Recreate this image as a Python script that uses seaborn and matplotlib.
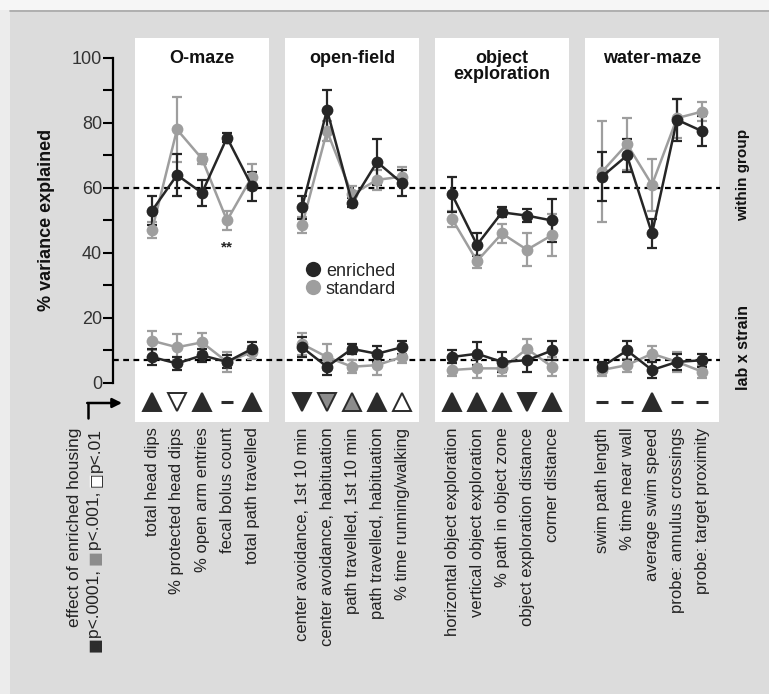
import numpy as np
import pandas as pd
import matplotlib
matplotlib.use("Agg")
import matplotlib.pyplot as plt
import seaborn as sns
from matplotlib.lines import Line2D
from matplotlib.patches import Rectangle

# ---------------------------------------------------------------- data
panels = ["O-maze", "open-field", "object\nexploration", "water-maze"]
measures = [
    "total head dips", "% protected head dips", "% open arm entries",
    "fecal bolus count", "total path travelled",
    "center avoidance, 1st 10 min", "center avoidance, habituation",
    "path travelled, 1st 10 min", "path travelled, habituation",
    "% time running/walking",
    "horizontal object exploration", "vertical object exploration",
    "% path in object zone", "object exploration distance", "corner distance",
    "swim path length", "% time near wall", "average swim speed",
    "probe: annulus crossings", "probe: target proximity",
]
panel_of_measure = [0] * 5 + [1] * 5 + [2] * 5 + [3] * 5

within_enriched = [53, 64, 58.5, 75.5, 60.5, 54, 84, 55.5, 68, 61.5,
                   58, 42.5, 52.5, 51.5, 50, 63.5, 70, 46, 81, 77.5]
within_enriched_err = [4.5, 6.5, 4, 1.5, 4.5, 3.5, 6, 1.5, 7, 4,
                       5.5, 3.5, 1.5, 2, 6.5, 7.5, 5, 4.5, 6.5, 4.5]
within_standard = [47, 78, 69, 50, 63.5, 48.5, 77.5, 58, 62.5, 63.5,
                   50.5, 37.5, 46, 41, 45.5, 65, 73.5, 61, 81.5, 83.5]
within_standard_err = [2.5, 10, 1.5, 3, 4, 2.5, 3, 2.5, 3, 3,
                       2.5, 2, 3, 5, 6.5, 15.5, 8, 8, 6, 3]

labstrain_enriched = [8, 6, 8.5, 6.5, 10.5, 11, 5, 10.5, 9, 11,
                      8, 9, 6.5, 7, 10, 5, 10, 4, 6.5, 7]
labstrain_enriched_err = [2.5, 2, 2, 2, 2, 3, 2.5, 1.5, 2.5, 2,
                          2, 3.5, 3, 3.5, 3, 1.5, 3, 2.5, 2.5, 2]
labstrain_standard = [13, 11, 12.5, 6.5, 9.5, 12, 8, 5, 5.5, 8,
                      4, 4.5, 4.5, 10.5, 5, 4, 5.5, 9, 6.5, 3.5]
labstrain_standard_err = [3, 4, 3, 3, 2, 3.5, 4, 2, 3, 2,
                          2, 3, 2.5, 3, 3, 2, 2, 2.5, 3, 2]

# effect of enriched housing: direction and significance level
effect_direction = ["up", "down", "up", "none", "up",
                    "down", "down", "up", "up", "up",
                    "up", "up", "up", "down", "up",
                    "none", "none", "up", "none", "none"]
effect_level = ["p<.0001", "p<.01", "p<.0001", "", "p<.0001",
                "p<.0001", "p<.001", "p<.001", "p<.0001", "p<.01",
                "p<.0001", "p<.0001", "p<.0001", "p<.0001", "p<.0001",
                "", "", "p<.0001", "", ""]

reference_lines = [60, 7]
yticks = [0, 20, 40, 60, 80, 100]

# ---------------------------------------------------------------- styling
sns.set_theme(style="white")
plt.rcParams["font.family"] = ["Liberation Sans", "DejaVu Sans"]

BG = "#dcdcdc"
C_ENR = "#262626"
C_STD = "#9e9e9e"
level_fill = {"p<.0001": "#2b2b2b", "p<.001": "#8c8c8c", "p<.01": "#ffffff"}

PANEL_STRIDE = 6
xpos = np.array([PANEL_STRIDE * p + i % 5 for i, p in enumerate(panel_of_measure)], float)

rows = []
for level_name, enr, std in [("within", within_enriched, within_standard),
                             ("labstrain", labstrain_enriched, labstrain_standard)]:
    for k in range(len(measures)):
        for housing, vals in [("enriched", enr), ("standard", std)]:
            rows.append(dict(x=xpos[k], value=vals[k], housing=housing,
                             segment=f"{housing}-{level_name}-{panel_of_measure[k]}"))
df = pd.DataFrame(rows)

fig = plt.figure(figsize=(7.69, 6.94), dpi=100, facecolor=BG)
fig.add_artist(Rectangle((0, 1 - 10 / 694), 1, 10 / 694, transform=fig.transFigure,
                         facecolor="#f6f6f6", edgecolor="none", zorder=-5))
fig.add_artist(Line2D([10 / 769, 1], [1 - 11 / 694] * 2, transform=fig.transFigure,
                      color="#a8a8a8", lw=1.2))
fig.add_artist(Rectangle((0, 0), 10 / 769, 1 - 10 / 694, transform=fig.transFigure,
                         facecolor="#ececec", edgecolor="none", zorder=-5))

ax = fig.add_axes([113 / 769, 272 / 694, 607 / 769, 384 / 694])
ax.patch.set_visible(False)
ax.set_xlim(-1.56, 22.72)
ax.set_ylim(-12, 106.15)

# white panel backgrounds
for p in range(len(panels)):
    ax.axvspan(PANEL_STRIDE * p - 0.68, PANEL_STRIDE * p + 4.68, color="white", zorder=0, lw=0)

for yref in reference_lines:
    ax.axhline(yref, color="black", lw=1.6, ls=(0, (2.6, 2.0)), zorder=1)

# error bars + lines + markers
series = [
    ("standard", C_STD, within_standard, within_standard_err, labstrain_standard, labstrain_standard_err),
    ("enriched", C_ENR, within_enriched, within_enriched_err, labstrain_enriched, labstrain_enriched_err),
]
for housing, color, w, we, l, le in series:
    for vals, errs in [(w, we), (l, le)]:
        ax.errorbar(xpos, vals, yerr=errs, fmt="none", ecolor=color, elinewidth=1.6,
                    capsize=3.5, capthick=1.6, zorder=3)
    sns.lineplot(data=df[df.housing == housing], x="x", y="value", units="segment",
                 estimator=None, sort=False, color=color, lw=1.8, marker="o",
                 markersize=8.5, markeredgewidth=0, ax=ax, legend=False, zorder=4)

# significance markers
for k, (d, lev) in enumerate(zip(effect_direction, effect_level)):
    if d == "none":
        ax.plot(xpos[k], -6, marker="_", ms=9, mew=2.2, color="#2b2b2b", clip_on=False, zorder=5)
    else:
        ax.plot(xpos[k], -6, marker="^" if d == "up" else "v", ms=13.5,
                mfc=level_fill[lev], mec="#2b2b2b", mew=1.4, ls="none", clip_on=False, zorder=5)

ax.text(xpos[3], 41.8, "**", ha="center", va="center", fontsize=11, fontweight="bold")

# panel titles
for p, title in enumerate(panels):
    ax.text(PANEL_STRIDE * p + 2, 102.5, title, ha="center", va="top", fontsize=13,
            fontweight="bold", linespacing=0.95, color="#111111")

# axes
for s in ["top", "right", "bottom"]:
    ax.spines[s].set_visible(False)
ax.spines["left"].set_bounds(0, 100)
ax.spines["left"].set_color("black")
ax.spines["left"].set_linewidth(1.6)
ax.set_yticks(yticks)
ax.set_yticks(np.arange(10, 100, 20), minor=True)
ax.tick_params(axis="y", which="both", direction="out", length=7, width=1.5, color="black",
               left=True, labelsize=13, labelcolor="#333333", pad=1)
ax.set_xticks(xpos)
ax.set_xticklabels(measures, rotation=90, fontsize=12, color="#222222")
ax.tick_params(axis="x", length=0, pad=4)
ax.set_xlabel("")
ax.set_ylabel("% variance explained", fontsize=13, fontweight="bold", color="#111111")
ax.yaxis.set_label_coords(-0.0955, 0.525)

handles = [Line2D([], [], ls="none", marker="o", ms=11, mfc=C_ENR, mec="none", label="enriched"),
           Line2D([], [], ls="none", marker="o", ms=11, mfc=C_STD, mec="none", label="standard")]
ax.legend(handles=handles, loc="upper left", bbox_to_anchor=(0.318, 0.415), frameon=False,
          fontsize=13, handlelength=0.8, handletextpad=0.3, labelspacing=0.05, borderpad=0,
          borderaxespad=0)

# right-hand side labels
fig.text(743 / 769, 1 - 175 / 694, "within group", rotation=90, ha="center", va="center",
         fontsize=11, fontweight="bold", color="#111111")
fig.text(743 / 769, 1 - 347 / 694, "lab x strain", rotation=90, ha="center", va="center",
         fontsize=11.5, fontweight="bold", color="#111111")

# arrow pointing to the significance row
fig.add_artist(Line2D([88 / 769] * 2, [1 - 418 / 694, 1 - 403 / 694], transform=fig.transFigure,
                      color="black", lw=1.8))
ax.annotate("", xy=(122 / 769, 1 - 403 / 694), xytext=(87.2 / 769, 1 - 403 / 694),
            xycoords="figure fraction", textcoords="figure fraction",
            arrowprops=dict(arrowstyle="-|>", lw=1.8, color="black", mutation_scale=14,
                            shrinkA=0, shrinkB=0))

# key for the significance symbols
KEY_SIZE = 12.5
fig.text(75 / 769, 1 - 428 / 694, "effect of enriched housing", rotation=90, ha="center",
         va="top", fontsize=KEY_SIZE, color="#222222")
fig.canvas.draw()
renderer = fig.canvas.get_renderer()
SQ_FONT = ["DejaVu Sans"]
pieces = [("p<.01", "#222222", None), ("\u25a1", "#222222", "#ffffff"), ("p<.001, ", "#222222", None),
          ("\u25a0", "#8c8c8c", None), ("p<.0001, ", "#222222", None), ("\u25a0", "#2b2b2b", None)]
top_px = 694 - 428
for txt, col, under in pieces:
    is_square = txt in ("\u25a0", "\u25a1")
    fam = SQ_FONT if is_square else None
    size = KEY_SIZE * 0.9 if is_square else KEY_SIZE
    if under is not None:
        fig.text(95 / 769, top_px / 694, "\u25a0", rotation=90, ha="center", va="top",
                 fontsize=size, color=under, family=fam)
    t = fig.text(95 / 769, top_px / 694, txt, rotation=90, ha="center", va="top",
                 fontsize=size, color=col, family=fam)
    bb = t.get_window_extent(renderer)
    top_px -= bb.height

fig.savefig("out.png", dpi=100, facecolor=BG)
